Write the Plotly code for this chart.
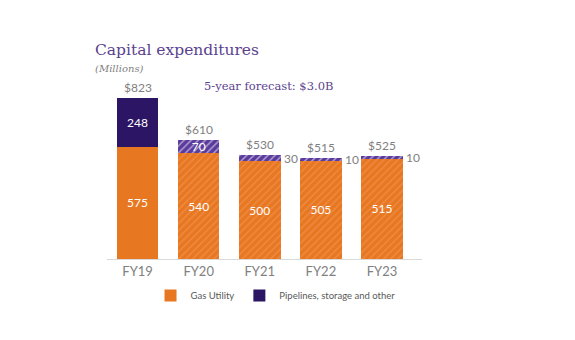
import plotly.graph_objects as go

categories = ["FY19", "FY20", "FY21", "FY22", "FY23"]
gas_utility = [575, 540, 500, 505, 515]
pipelines = [248, 70, 30, 10, 10]
totals = [823, 610, 530, 515, 525]
forecast = [False, True, True, True, True]

ORANGE = "#E87722"
ORANGE_LIGHT = "#F4A46A"
PURPLE_DARK = "#2D1566"
PURPLE = "#5A3A9C"
PURPLE_LIGHT = "#8E73C4"
GRAY = "#808080"

fig = go.Figure()

fig.add_trace(go.Bar(
    x=categories, y=gas_utility, name="Gas Utility",
    marker=dict(
        color=ORANGE, line=dict(width=0),
        pattern=dict(shape=["/" if f else "" for f in forecast],
                     bgcolor=ORANGE, fgcolor=ORANGE_LIGHT, size=5, solidity=0.25),
    ),
    text=[str(v) for v in gas_utility], textposition="inside", insidetextanchor="middle",
    textangle=0,
    textfont=dict(color="white", size=12, family="Lato"),
))

fig.add_trace(go.Bar(
    x=categories, y=pipelines, name="Pipelines, storage and other",
    marker=dict(
        color=[PURPLE if f else PURPLE_DARK for f in forecast], line=dict(width=0),
        pattern=dict(shape=["/" if f else "" for f in forecast],
                     bgcolor=[PURPLE if f else PURPLE_DARK for f in forecast],
                     fgcolor=PURPLE_LIGHT, size=5, solidity=0.3),
    ),
    text=[str(v) if v >= 50 else "" for v in pipelines], textposition="inside",
    insidetextanchor="middle", textangle=0,
    textfont=dict(color="white", size=12, family="Lato"),
))

annotations = []
for c, t in zip(categories, totals):
    annotations.append(dict(x=c, y=t, text=f"${t}", showarrow=False, yanchor="bottom",
                            yshift=1, font=dict(color=GRAY, size=12, family="Lato")))
for c, g, p in zip(categories, gas_utility, pipelines):
    if p < 50:
        annotations.append(dict(x=c, y=g + p / 2, text=str(p), showarrow=False,
                                xanchor="left", xshift=22,
                                font=dict(color=GRAY, size=12, family="Lato")))

annotations += [
    dict(xref="paper", yref="paper", x=-0.043, y=1.125, text="Capital expenditures",
         showarrow=False, xanchor="left", yanchor="bottom",
         font=dict(family="DejaVu Serif", size=15.5, color="#5B3F8F")),
    dict(xref="paper", yref="paper", x=-0.043, y=1.125, text="<i>(Millions)</i>",
         showarrow=False, xanchor="left", yanchor="top",
         font=dict(family="DejaVu Serif", size=10, color=GRAY)),
    dict(xref="paper", yref="paper", x=0.303, y=0.983, text="5-year forecast: $3.0B",
         showarrow=False, xanchor="left", yanchor="middle",
         font=dict(family="DejaVu Serif", size=11.5, color="#5B3F8F")),
]

fig.update_layout(
    barmode="stack", bargap=0.32,
    width=575, height=340,
    margin=dict(l=107, r=153, t=83, b=81),
    paper_bgcolor="white", plot_bgcolor="white",
    showlegend=True,
    legend=dict(orientation="h", x=0.535, xanchor="center", y=-0.125, yanchor="top",
                font=dict(size=9.5, color="#595959", family="Lato"), itemwidth=30,
                traceorder="normal"),
    xaxis=dict(showline=True, linecolor="#D9D9D9", linewidth=1, ticks="",
               tickfont=dict(size=13, color=GRAY, family="Lato")),
    yaxis=dict(range=[0, 900], visible=False, showgrid=False),
    annotations=annotations,
    uniformtext=dict(minsize=8, mode="show"),
)

fig.write_html("out.html")
